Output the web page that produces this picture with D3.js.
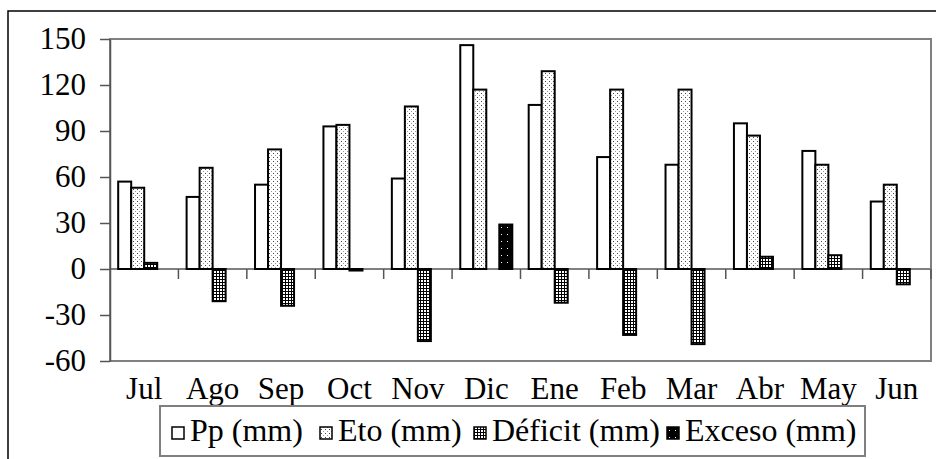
<!DOCTYPE html>
<html>
<head>
<meta charset="utf-8">
<script src="https://cdn.jsdelivr.net/npm/d3@7"></script>
<style>
  body { margin: 0; background: #fff; }
  svg { display: block; }
</style>
</head>
<body>
<svg id="chart" width="936" height="459"></svg>
<script>
// Monthly water balance (mm)
const months = ["Jul", "Ago", "Sep", "Oct", "Nov", "Dic", "Ene", "Feb", "Mar", "Abr", "May", "Jun"];
const pp      = [57, 47, 55, 93, 59, 146, 107, 73, 68, 95, 77, 44];
const eto     = [53, 66, 78, 94, 106, 117, 129, 117, 117, 87, 68, 55];
const deficit = [4, -21, -24, -1, -47, 0, -22, -43, -49, 8, 9, -10];
const exceso  = [0, 0, 0, 0, 0, 29, 0, 0, 0, 0, 0, 0];
const seriesNames = ["Pp (mm)", "Eto (mm)", "Déficit (mm)", "Exceso (mm)"];
const yTicks = [-60, -30, 0, 30, 60, 90, 120, 150];

const FONT = '"Liberation Serif", "Times New Roman", serif';
const svg = d3.select("#chart");
const plot = { left: 110, right: 931, top: 39, bottom: 361 };

// fill patterns
const defs = svg.append("defs");
const pEto = defs.append("pattern").attr("id", "pat-eto")
  .attr("patternUnits", "userSpaceOnUse").attr("width", 4).attr("height", 4);
pEto.append("rect").attr("width", 4).attr("height", 4).attr("fill", "#fff");
pEto.append("rect").attr("x", 1).attr("y", 1).attr("width", 1).attr("height", 1).attr("fill", "#444");
pEto.append("rect").attr("x", 3).attr("y", 3).attr("width", 1).attr("height", 1).attr("fill", "#999");

const pDef = defs.append("pattern").attr("id", "pat-def")
  .attr("patternUnits", "userSpaceOnUse").attr("width", 3).attr("height", 3);
pDef.append("rect").attr("width", 3).attr("height", 3).attr("fill", "#fff");
pDef.append("rect").attr("width", 3).attr("height", 1).attr("fill", "#000");
pDef.append("rect").attr("width", 1).attr("height", 3).attr("fill", "#000");

const pExc = defs.append("pattern").attr("id", "pat-exc")
  .attr("patternUnits", "userSpaceOnUse").attr("width", 6).attr("height", 7);
pExc.append("rect").attr("width", 6).attr("height", 7).attr("fill", "#000");
pExc.append("rect").attr("x", 3).attr("y", 3).attr("width", 1).attr("height", 1).attr("fill", "#fff");

const fills = ["#fff", "url(#pat-eto)", "url(#pat-def)", "url(#pat-exc)"];
const seriesValues = [pp, eto, deficit, exceso];

// outer chart frame
svg.append("rect").attr("x", 8).attr("y", 11).attr("width", 940).attr("height", 470)
  .attr("fill", "none").attr("stroke", "#000").attr("stroke-width", 1.5);

// scales
const x = d3.scaleBand().domain(months).range([plot.left, plot.right]).padding(0);
const xs = d3.scaleBand().domain(d3.range(4)).range([0, x.bandwidth()])
  .paddingInner(0).paddingOuter(0.63);
const y = d3.scaleLinear().domain([-60, 150]).range([plot.bottom, plot.top]);

// plot area border
svg.append("rect").attr("x", plot.left).attr("y", plot.top)
  .attr("width", plot.right - plot.left).attr("height", plot.bottom - plot.top)
  .attr("fill", "none").attr("stroke", "#808080").attr("stroke-width", 2);

// category axis line at zero with boundary ticks
const zero = y(0);
svg.append("line").attr("x1", plot.left).attr("x2", plot.right)
  .attr("y1", zero).attr("y2", zero).attr("stroke", "#808080").attr("stroke-width", 2);
const edges = months.map(m => x(m)).concat([plot.right]);
svg.append("g").selectAll("line").data(edges.slice(1)).join("line")
  .attr("x1", d => d).attr("x2", d => d).attr("y1", zero).attr("y2", zero + 10)
  .attr("stroke", "#555").attr("stroke-width", 1.5);

// bars
const rows = [];
months.forEach((m, i) => {
  seriesValues.forEach((vals, s) => {
    if (vals[i] !== 0) rows.push({ m, s, v: vals[i] });
  });
});
svg.append("g").selectAll("rect").data(rows).join("rect")
  .attr("x", d => x(d.m) + xs(d.s))
  .attr("width", xs.bandwidth())
  .attr("y", d => y(Math.max(0, d.v)))
  .attr("height", d => Math.abs(y(d.v) - y(0)))
  .attr("fill", d => fills[d.s])
  .attr("stroke", "#000").attr("stroke-width", 2);

// value axis (plain hyphen for negatives)
const yAxis = svg.append("g").attr("transform", `translate(${plot.left},0)`)
  .call(d3.axisLeft(y).tickValues(yTicks).tickFormat(d => String(d))
    .tickSize(10).tickSizeOuter(0).tickPadding(14));
yAxis.attr("font-family", null).attr("font-size", null);
yAxis.select(".domain").attr("stroke", "#555").attr("stroke-width", 1.5);
yAxis.selectAll(".tick line").attr("stroke", "#555").attr("stroke-width", 1.5);
yAxis.selectAll("text").style("font-family", FONT).style("font-size", "31px").attr("fill", "#000");

// month labels
const xAxis = svg.append("g").attr("transform", `translate(0,${plot.bottom})`)
  .call(d3.axisBottom(x).tickSize(0).tickPadding(16));
xAxis.attr("font-family", null).attr("font-size", null);
xAxis.select(".domain").remove();
xAxis.selectAll("text").style("font-family", FONT).style("font-size", "31px").attr("fill", "#000");

// legend
const legend = svg.append("g");
legend.append("rect").attr("x", 160).attr("y", 406).attr("width", 705).attr("height", 50)
  .attr("fill", "#fff").attr("stroke", "#7f7f7f").attr("stroke-width", 2);
const legendX = [172, 320, 474, 667];
seriesNames.forEach((name, s) => {
  legend.append("rect").attr("x", legendX[s]).attr("y", 427).attr("width", 12).attr("height", 12)
    .attr("fill", fills[s]).attr("stroke", "#000").attr("stroke-width", 1.5);
  legend.append("text").attr("x", legendX[s] + 18).attr("y", 441)
    .style("font-family", FONT).style("font-size", "32px").attr("fill", "#000").text(name);
});
</script>
</body>
</html>
